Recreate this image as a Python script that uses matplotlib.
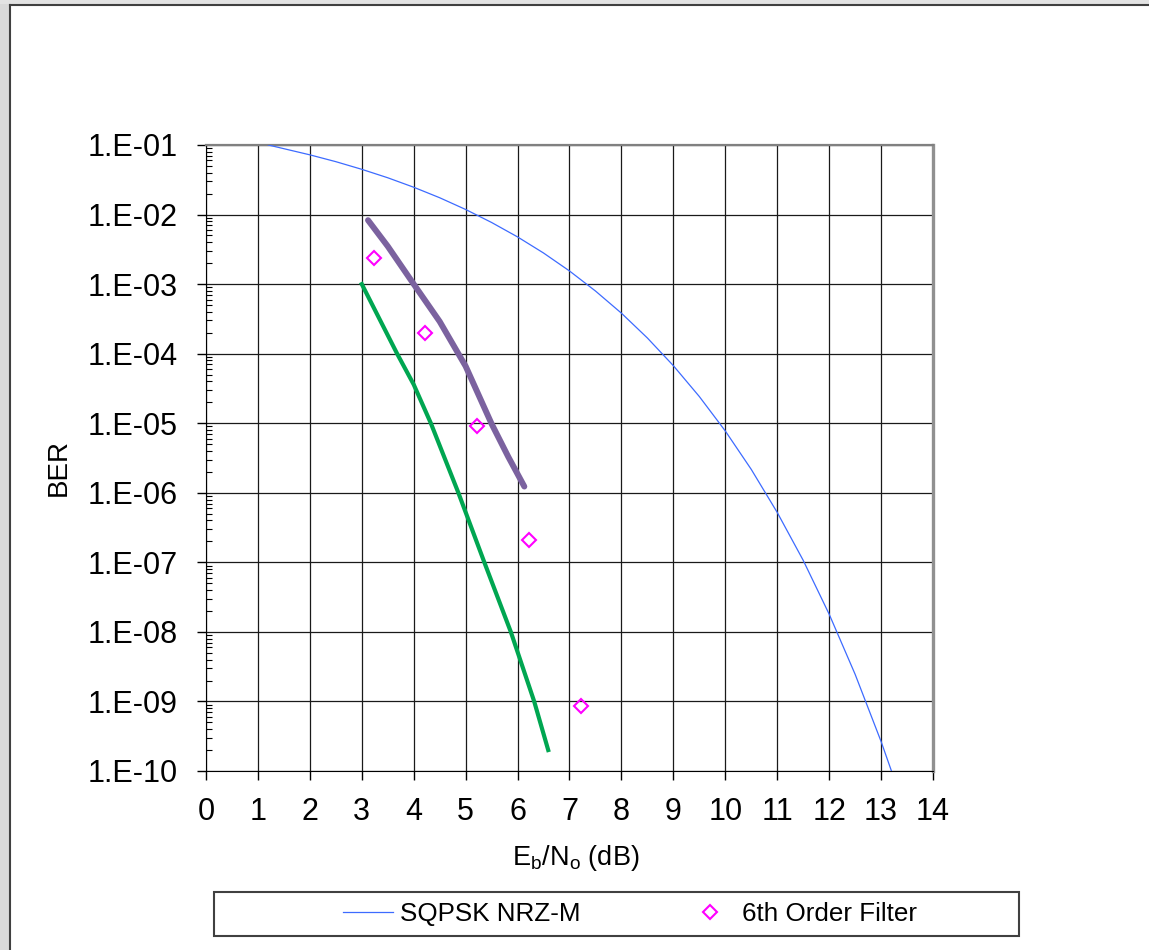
import numpy as np
import matplotlib
matplotlib.use("Agg")
import matplotlib.pyplot as plt
from matplotlib.patches import Rectangle
from matplotlib.lines import Line2D
from matplotlib.ticker import FixedLocator, FixedFormatter, LogLocator, NullFormatter

plt.rcParams['font.family'] = ['Liberation Sans', 'DejaVu Sans']
plt.rcParams['mathtext.fontset'] = 'custom'
plt.rcParams['mathtext.rm'] = 'Liberation Sans'

# theoretical SQPSK NRZ-M curve
ebno_theory = [1.2, 1.5, 2.0, 2.5, 3.0, 3.5, 4.0, 4.5, 5.0, 5.5, 6.0, 6.5, 7.0, 7.5,
               8.0, 8.5, 9.0, 9.5, 10.0, 10.5, 11.0, 11.5, 12.0, 12.5, 13.0, 13.2]
ber_theory = [1.0e-1, 8.85e-2, 7.22e-2, 5.76e-2, 4.47e-2, 3.38e-2, 2.47e-2, 1.745e-2,
              1.183e-2, 7.69e-3, 4.77e-3, 2.8e-3, 1.545e-3, 7.96e-4, 3.82e-4, 1.68e-4,
              6.72e-5, 2.42e-5, 7.74e-6, 2.17e-6, 5.22e-7, 1.07e-7, 1.8e-8, 2.46e-9,
              2.66e-10, 1.0e-10]

# measured curve (thick purple)
ebno_meas = [3.12, 3.5, 4.0, 4.5, 5.0, 5.5, 5.82, 6.13]
ber_meas = [8.3e-3, 3.5e-3, 1.0e-3, 2.9e-4, 6.6e-5, 9.8e-6, 3.3e-6, 1.23e-6]

# second curve (green)
ebno_green = [3.0, 3.68, 4.0, 4.33, 4.86, 5.36, 5.87, 6.32, 6.59]
ber_green = [1.0e-3, 1.0e-4, 3.6e-5, 1.0e-5, 1.0e-6, 1.0e-7, 1.0e-8, 1.0e-9, 2.0e-10]

# 6th order filter points
ebno_filt = [3.23, 4.22, 5.22, 6.22, 7.22]
ber_filt = [2.4e-3, 1.96e-4, 9.2e-6, 2.07e-7, 8.6e-10]

x_ticks = list(range(0, 15))
y_ticks = [1e-1, 1e-2, 1e-3, 1e-4, 1e-5, 1e-6, 1e-7, 1e-8, 1e-9, 1e-10]
y_labels = ['1.E-01', '1.E-02', '1.E-03', '1.E-04', '1.E-05',
            '1.E-06', '1.E-07', '1.E-08', '1.E-09', '1.E-10']

W, H = 1149, 950
fig = plt.figure(figsize=(W / 100, H / 100), dpi=100)

# window frame bits
fig.patches.append(Rectangle((0, 0), 9 / W, 1, transform=fig.transFigure,
                             facecolor='#d9d9d9', edgecolor='none', zorder=0))
fig.patches.append(Rectangle((0, 1 - 4 / H), 1, 4 / H, transform=fig.transFigure,
                             facecolor='#e3e3e3', edgecolor='none', zorder=0))
fig.lines.append(Line2D([9.5 / W, 9.5 / W], [0, 1 - 4.5 / H], transform=fig.transFigure,
                        color='#404040', lw=1.5))
fig.lines.append(Line2D([9.5 / W, 1], [1 - 4.5 / H, 1 - 4.5 / H], transform=fig.transFigure,
                        color='#404040', lw=1.5))

ax = fig.add_axes([206 / W, 1 - 771 / H, (933 - 206) / W, (771 - 145) / H])
ax.set_yscale('log')
ax.set_xlim(0, 14)
ax.set_ylim(1e-10, 1e-1)

ax.plot(ebno_theory, ber_theory, color='#3d6bff', lw=0.9, label='SQPSK NRZ-M', zorder=3)
ax.plot(ebno_meas, ber_meas, color='#7b629f', lw=4.3, solid_capstyle='round',
        solid_joinstyle='round', zorder=4)
ax.plot(ebno_green, ber_green, color='#00a651', lw=3.0, solid_joinstyle='round', zorder=4)
ax.plot(ebno_filt, ber_filt, linestyle='none', marker='D', markersize=7.5,
        markerfacecolor='none', markeredgecolor='#ff00ff', markeredgewidth=1.5,
        label='6th Order Filter', zorder=5)

ax.xaxis.set_major_locator(FixedLocator(x_ticks))
ax.yaxis.set_major_locator(FixedLocator(y_ticks))
ax.yaxis.set_major_formatter(FixedFormatter(y_labels))
ax.yaxis.set_minor_locator(LogLocator(base=10, subs=np.arange(2, 10), numticks=20))
ax.yaxis.set_minor_formatter(NullFormatter())

ax.tick_params(axis='both', which='major', direction='out', length=6.5, width=1,
               labelsize=22, colors='black')
ax.tick_params(axis='x', which='major', pad=12)
ax.tick_params(axis='y', which='major', pad=14)
ax.tick_params(axis='y', which='minor', direction='in', length=4.5, width=0.8)

ax.grid(True, which='major', color='#1a1a1a', lw=0.9)
ax.set_axisbelow(True)

ax.spines['left'].set_color('black')
ax.spines['bottom'].set_color('black')
ax.spines['top'].set_color('#808080')
ax.spines['top'].set_linewidth(1.6)
ax.spines['right'].set_color('#909090')
ax.spines['right'].set_linewidth(2.4)

fig.text(576 / W, 1 - 865 / H, r'E$_\mathregular{b}$/N$_\mathregular{o}$ (dB)',
         ha='center', va='baseline', fontsize=19.5)
fig.text(58.5 / W, 1 - 467 / H, 'BER', rotation=90, ha='center', va='center', fontsize=20)

# legend box
fig.patches.append(Rectangle((214 / W, 1 - 936 / H), (1019 - 214) / W, 44 / H,
                             transform=fig.transFigure, facecolor='white',
                             edgecolor='#404040', lw=1.5, zorder=1))
handles, labels = ax.get_legend_handles_labels()
fig.legend(handles, labels, loc='center left', bbox_to_anchor=(343 / W, 1 - 914 / H),
           ncol=2, frameon=False, fontsize=18.7, handlelength=1.93, handletextpad=0.25,
           columnspacing=4.05, borderpad=0, borderaxespad=0)

fig.savefig('out.png', dpi=100, facecolor='white')
